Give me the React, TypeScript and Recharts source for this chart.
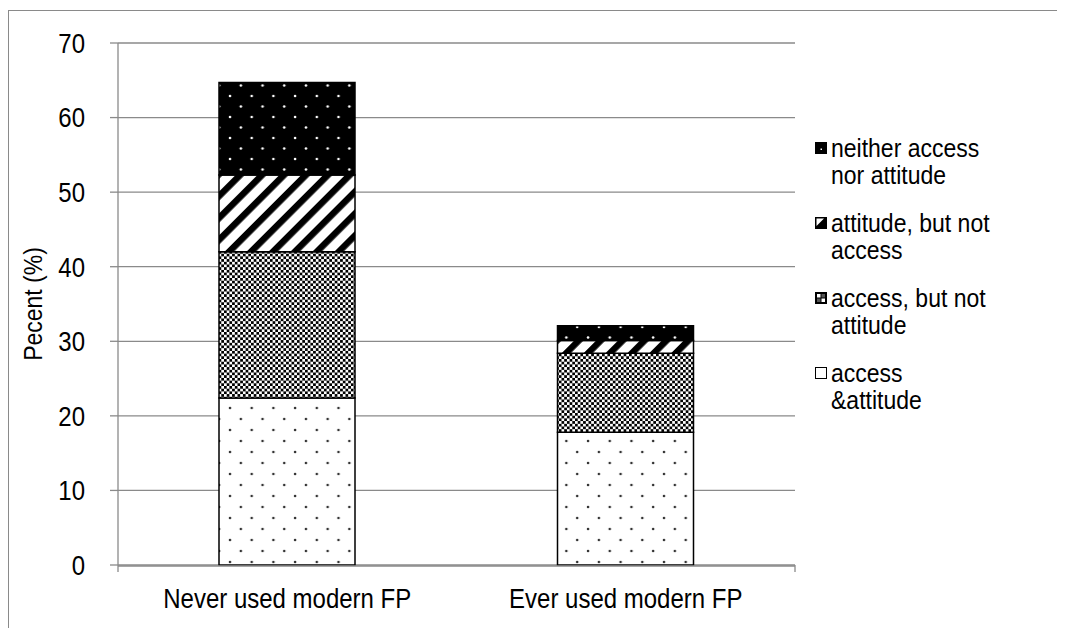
import { Bar, BarChart, CartesianGrid, XAxis, YAxis } from "recharts";

const categories = ["Never used modern FP", "Ever used modern FP"];
const accessAttitude = [22.4, 17.8];
const accessNotAttitude = [19.6, 10.6];
const attitudeNotAccess = [10.3, 1.7];
const neither = [12.4, 2.0];
const yTicks = [0, 10, 20, 30, 40, 50, 60, 70];
const edgeTicks = [0, 1, 2];

const legendItems = [
  { key: "neither", lines: ["neither access", "nor attitude"] },
  { key: "attitude", lines: ["attitude, but not", "access"] },
  { key: "access", lines: ["access, but not", "attitude"] },
  { key: "both", lines: ["access", "&attitude"] },
];

const data = categories.map((name, i) => ({
  name,
  accessAttitude: accessAttitude[i],
  accessNotAttitude: accessNotAttitude[i],
  attitudeNotAccess: attitudeNotAccess[i],
  neither: neither[i],
}));

const FONT = "'Liberation Sans', Arial, sans-serif";
const GRID = "#8a8a8a";
const STRETCH = 1.14;

function LegendIcon({ kind }: { kind: string }) {
  return (
    <svg width={12} height={12} style={{ display: "block" }}>
      {kind === "neither" && (
        <>
          <rect x={0} y={0} width={12} height={12} fill="#000" />
          <rect x={5.5} y={6.5} width={1.5} height={1.5} fill="#fff" />
        </>
      )}
      {kind === "attitude" && (
        <>
          <rect x={0.5} y={0.5} width={11} height={11} fill="#000" stroke="#000" />
          <polygon points="1.5,1.5 9,1.5 1.5,9" fill="#fff" />
        </>
      )}
      {kind === "access" && (
        <>
          <rect x={0.5} y={0.5} width={11} height={11} fill="#000" stroke="#000" />
          <rect x={2} y={2} width={3.5} height={3.5} fill="#fff" />
          <rect x={6.5} y={6.5} width={3.5} height={3.5} fill="#fff" />
          <rect x={6.5} y={2} width={3.5} height={3.5} fill="#555" />
          <rect x={2} y={6.5} width={3.5} height={3.5} fill="#555" />
        </>
      )}
      {kind === "both" && <rect x={0.5} y={0.5} width={11} height={11} fill="#fff" stroke="#000" />}
    </svg>
  );
}

function ChartLegend() {
  return (
    <div
      style={{
        position: "absolute",
        left: 807,
        top: 126,
        width: 240,
        fontFamily: FONT,
        fontSize: 23,
        color: "#000",
      }}
    >
      {legendItems.map((item) => (
        <div key={item.key} style={{ display: "flex", alignItems: "flex-start", height: 75 }}>
          <div style={{ marginTop: 8, marginRight: 4 }}>
            <LegendIcon kind={item.key} />
          </div>
          <div style={{ lineHeight: "24px", transform: `scaleY(${STRETCH})`, transformOrigin: "top left" }}>
            {item.lines.map((l) => (
              <div key={l}>{l}</div>
            ))}
          </div>
        </div>
      ))}
    </div>
  );
}

function XTick(props: any) {
  const { x, y, payload } = props;
  return (
    <g transform={`translate(${x},${y}) scale(1,${STRETCH})`}>
      <text x={0} y={0} dy="0.71em" textAnchor="middle" fontFamily={FONT} fontSize={24} fill="#000">
        {payload.value}
      </text>
    </g>
  );
}

function YTick(props: any) {
  const { x, y, payload } = props;
  return (
    <g transform={`translate(${x},${y}) scale(1,${STRETCH})`}>
      <text x={0} y={0} dy="0.36em" textAnchor="end" fontFamily={FONT} fontSize={24} fill="#000">
        {payload.value}
      </text>
    </g>
  );
}

function EdgeTick() {
  return <g />;
}

function YLabel(props: any) {
  const vb = props.viewBox;
  const x = vb.x + 25;
  const y = vb.y + vb.height / 2;
  return (
    <g transform={`translate(${x},${y}) rotate(-90) scale(1,${STRETCH})`}>
      <text x={0} y={0} dy="0.36em" textAnchor="middle" fontFamily={FONT} fontSize={23} fill="#000">
        Pecent (%)
      </text>
    </g>
  );
}

export default function App() {
  return (
    <div style={{ position: "relative", width: 1057, height: 620 }}>
      <div
        style={{
          position: "absolute",
          left: 0,
          top: 2,
          width: 1057,
          height: 618,
          borderTop: `1px solid ${GRID}`,
          borderLeft: `1px solid ${GRID}`,
          boxSizing: "border-box",
        }}
      />
      <div style={{ position: "absolute", left: 0, top: 0 }}>
        <BarChart width={1057} height={621} data={data} margin={{ top: 35, right: 270, bottom: 0, left: 0 }}>
          <defs>
            <pattern id="dotsOnWhite" patternUnits="userSpaceOnUse" width={21.7} height={22} x={0} y={0}>
              <rect width={21.7} height={22} fill="#fff" />
              <circle cx={5} cy={4} r={1.3} fill="#333" />
              <circle cx={15.85} cy={15} r={1.3} fill="#333" />
            </pattern>
            <pattern id="dotsOnBlack" patternUnits="userSpaceOnUse" width={21.7} height={21} x={0} y={0}>
              <rect width={21.7} height={21} fill="#000" />
              <circle cx={5} cy={4} r={1.3} fill="#fff" />
              <circle cx={15.85} cy={14.5} r={1.3} fill="#fff" />
            </pattern>
            <pattern id="diagStripes" patternUnits="userSpaceOnUse" width={15.5} height={15.5} patternTransform="rotate(45)">
              <rect width={15.5} height={15.5} fill="#fff" />
              <rect x={0} y={0} width={6.5} height={15.5} fill="#000" />
            </pattern>
            <pattern id="checker" patternUnits="userSpaceOnUse" width={5.4} height={5.4}>
              <rect width={5.4} height={5.4} fill="#fff" />
              <rect x={0} y={0} width={2.7} height={2.7} fill="#000" />
              <rect x={2.7} y={2.7} width={2.7} height={2.7} fill="#000" />
            </pattern>
          </defs>
          <CartesianGrid vertical={false} xAxisId={1} stroke={GRID} strokeWidth={1.3} />
          <XAxis
            xAxisId={0}
            type="number"
            domain={[0, 2]}
            allowDataOverflow
            ticks={edgeTicks}
            interval={0}
            tick={<EdgeTick />}
            axisLine={false}
            tickLine={{ stroke: GRID, strokeWidth: 1.3 }}
            tickSize={7}
            height={1}
          />
          <XAxis
            xAxisId={1}
            dataKey="name"
            axisLine={{ stroke: GRID, strokeWidth: 1.3 }}
            tickLine={false}
            tick={<XTick />}
            tickMargin={17}
            height={63}
          />
          <YAxis
            domain={[0, 70]}
            ticks={yTicks}
            width={110}
            axisLine={{ stroke: GRID, strokeWidth: 1.3 }}
            tickLine={{ stroke: GRID, strokeWidth: 1.3 }}
            tickSize={8}
            tickMargin={25}
            tick={<YTick />}
            label={<YLabel />}
          />
          <Bar xAxisId={1} dataKey="accessAttitude" stackId="a" barSize={136} fill="url(#dotsOnWhite)" stroke="#000" strokeWidth={1.5} isAnimationActive={false} />
          <Bar xAxisId={1} dataKey="accessNotAttitude" stackId="a" barSize={136} fill="url(#checker)" stroke="#000" strokeWidth={1.5} isAnimationActive={false} />
          <Bar xAxisId={1} dataKey="attitudeNotAccess" stackId="a" barSize={136} fill="url(#diagStripes)" stroke="#000" strokeWidth={1.5} isAnimationActive={false} />
          <Bar xAxisId={1} dataKey="neither" stackId="a" barSize={136} fill="url(#dotsOnBlack)" stroke="#000" strokeWidth={1.5} isAnimationActive={false} />
        </BarChart>
      </div>
      <ChartLegend />
    </div>
  );
}
